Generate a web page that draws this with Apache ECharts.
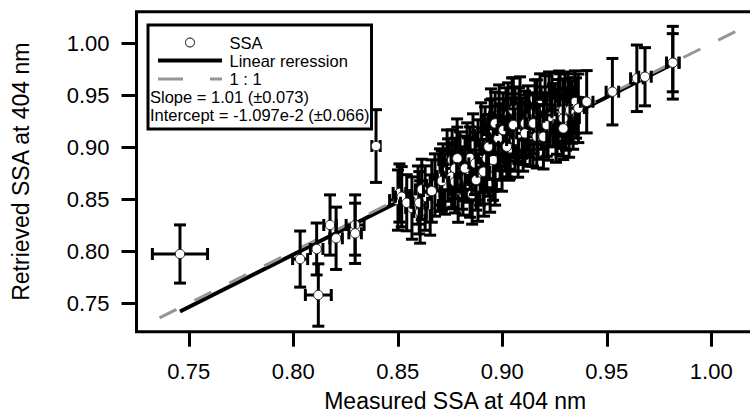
<!DOCTYPE html>
<html><head><meta charset="utf-8">
<script src="https://cdn.jsdelivr.net/npm/echarts@6/dist/echarts.min.js"></script>
<style>html,body{margin:0;padding:0;background:#fff}#c{width:750px;height:414px}</style>
</head><body><div id="c"></div>
<script>
// Measured SSA (x), retrieved SSA (y) and their error bars
const measured = [
  0.8702,0.8736,0.8765,0.8784,0.8812,0.8832,0.8860,0.8875,0.8899,0.8913,
  0.8927,0.8946,0.8961,0.8985,0.8999,0.9018,0.9033,0.9047,0.9066,0.9080,
  0.9100,0.9114,0.9128,0.9147,0.9166,0.9186,0.9200,0.9224,0.9243,0.9257,
  0.9272,0.9286,0.9300,0.9320,0.9339,0.9353,
  0.8501,0.8568,0.8597,0.8631,0.8655,0.8607,0.8678,0.8717,0.8726,0.8741,
  0.8789,0.8798,0.8808,0.8836,0.8846,0.8856,0.8884,0.8884,0.8894,0.8903,
  0.8918,0.8932,0.8942,0.8942,0.8951,0.8956,0.8975,0.8989,0.9004,0.9013,
  0.9028,0.9037,0.9042,0.9061,0.9076,0.9085,0.9095,0.9123,0.9133,0.9157,
  0.9171,0.9181,0.9205,0.9219,0.9238,0.9262,0.9277,0.9305,0.9315,0.9334,
  0.9348,0.8846,0.8760,
  0.8508,0.8519,0.8543,0.8603,0.8615,0.8663,0.8711,0.8758,0.8774,0.8774,
  0.8785,0.8822,0.8870,0.8875,0.8910,0.8926,0.8966,0.8966,0.8957,0.8934,
  0.8990,0.9037,0.8966,0.8981,0.9005,0.9022,0.9053,0.9061,0.9077,0.9053,
  0.9109,0.9109,0.9149,0.9165,0.9197,0.9213,0.9229,0.9253,0.9268,0.9292,
  0.9292,0.9292,0.9324,0.9364,0.9404,
  0.7458,0.8033,0.8112,0.8120,0.8176,0.8205,0.8296,0.8296,0.8396,
  0.9527,0.9644,0.9683,0.9816,0.9816
];
const retrieved = [
  0.8687,0.8879,0.8735,0.8975,0.8639,0.8927,0.9024,0.8783,0.9120,0.8639,
  0.8975,0.9264,0.9024,0.9312,0.8879,0.9264,0.8975,0.9380,0.9168,0.9264,
  0.9072,0.9216,0.9216,0.9120,0.9360,0.9283,0.9216,0.9437,0.9312,0.9168,
  0.9446,0.9216,0.9437,0.9216,0.9283,0.9380,
  0.8494,0.8417,0.8542,0.8513,0.8446,0.8379,0.8639,0.8725,0.8648,0.8783,
  0.8590,0.8860,0.8706,0.8783,0.8629,0.8552,0.8956,0.8590,0.8735,0.8879,
  0.9072,0.8831,0.9149,0.8667,0.9168,0.8802,0.8975,0.9120,0.9216,0.9072,
  0.9312,0.9091,0.9187,0.9283,0.9024,0.9380,0.9187,0.9283,0.9120,0.9341,
  0.9187,0.9409,0.9380,0.9168,0.9418,0.9245,0.9409,0.9264,0.9399,0.9341,
  0.9437,0.8898,0.8879,
  0.8562,0.8526,0.8468,0.8468,0.8597,0.8581,0.8677,0.8719,0.8670,0.8799,
  0.8896,0.8799,0.8847,0.8687,0.8767,0.8896,0.8735,0.8896,0.8879,0.9007,
  0.8992,0.8992,0.9232,0.9088,0.9168,0.9007,0.9360,0.9072,0.9136,0.9216,
  0.9232,0.9136,0.9232,0.9103,0.9103,0.9216,0.9296,0.9312,0.9344,0.9360,
  0.9281,0.9184,0.9360,0.9377,0.9440,
  0.7975,0.7926,0.8023,0.7580,0.8254,0.8126,0.8254,0.8174,0.9014,
  0.9537,0.9666,0.9681,0.9816,0.9816
];
const measuredErr = [
  0.003,0.004,0.003,0.004,0.003,0.004,0.003,0.004,0.003,0.004,
  0.003,0.004,0.003,0.004,0.003,0.004,0.003,0.004,0.003,0.004,
  0.003,0.004,0.003,0.004,0.003,0.004,0.003,0.004,0.003,0.004,
  0.003,0.004,0.003,0.004,0.003,0.004,
  0.004,0.003,0.004,0.003,0.004,0.003,0.004,0.003,0.004,0.003,
  0.004,0.003,0.004,0.003,0.004,0.003,0.004,0.003,0.004,0.003,
  0.004,0.003,0.004,0.003,0.004,0.003,0.004,0.003,0.004,0.003,
  0.004,0.003,0.004,0.003,0.004,0.003,0.004,0.003,0.004,0.003,
  0.004,0.003,0.004,0.003,0.004,0.003,0.004,0.003,0.004,0.003,
  0.004,0.003,0.004,
  0.003,0.003,0.003,0.004,0.003,0.004,0.003,0.004,0.003,0.004,
  0.003,0.004,0.003,0.004,0.003,0.004,0.003,0.004,0.003,0.004,
  0.003,0.004,0.003,0.004,0.003,0.004,0.003,0.004,0.003,0.004,
  0.003,0.004,0.003,0.004,0.003,0.004,0.003,0.004,0.003,0.004,
  0.003,0.004,0.003,0.004,0.003,
  0.0132,0.0036,0.003,0.0062,0.003,0.003,0.0043,0.003,0.002,
  0.003,0.003,0.003,0.003,0.003
];
const retrievedErr = [
  0.030,0.029,0.031,0.030,0.029,0.031,0.030,0.029,0.031,0.030,
  0.029,0.030,0.031,0.029,0.030,0.031,0.029,0.029,0.030,0.031,
  0.030,0.029,0.031,0.030,0.029,0.030,0.031,0.029,0.030,0.031,
  0.029,0.030,0.029,0.031,0.030,0.029,
  0.029,0.030,0.028,0.031,0.029,0.030,0.030,0.031,0.029,0.030,
  0.031,0.029,0.030,0.031,0.030,0.029,0.031,0.030,0.029,0.031,
  0.032,0.030,0.031,0.029,0.030,0.031,0.029,0.030,0.031,0.030,
  0.031,0.030,0.029,0.030,0.031,0.030,0.029,0.031,0.030,0.031,
  0.030,0.030,0.031,0.029,0.030,0.031,0.030,0.029,0.031,0.030,
  0.030,0.030,0.029,
  0.028,0.029,0.027,0.030,0.029,0.030,0.029,0.031,0.030,0.029,
  0.030,0.031,0.030,0.029,0.031,0.030,0.029,0.030,0.030,0.031,
  0.030,0.029,0.030,0.031,0.030,0.029,0.031,0.030,0.029,0.030,
  0.031,0.030,0.029,0.030,0.031,0.030,0.029,0.030,0.031,0.030,
  0.029,0.030,0.031,0.033,0.030,
  0.028,0.027,0.025,0.030,0.029,0.030,0.029,0.029,0.035,
  0.032,0.032,0.028,0.035,0.028
];
// Fit line end points and the 1:1 line
const regressionX = [0.7458, 0.9830];
const regressionY = [0.7422, 0.9818];
const oneToOneX = [0.736, 1.03];
const oneToOneY = [0.736, 1.03];
// Tick labels
const xTicks = [0.75, 0.80, 0.85, 0.90, 0.95, 1.00];
const yTicks = [0.75, 0.80, 0.85, 0.90, 0.95, 1.00];
const fitText = ['Slope = 1.01 (\u00b10.073)', 'Intercept = -1.097e-2 (\u00b10.066)'];

const FONT = '"Liberation Sans", Arial, sans-serif';
const chart = echarts.init(document.getElementById('c'), null, {renderer: 'svg'});

const points = measured.map((v, i) => [v, retrieved[i], measuredErr[i], retrievedErr[i]]);

function renderErr(params, api) {
  const x = api.value(0), y = api.value(1), xe = api.value(2), ye = api.value(3);
  const c = api.coord([x, y]);
  const t = api.coord([x, y + ye]);
  const b = api.coord([x, y - ye]);
  const l = api.coord([x - xe, y]);
  const r = api.coord([x + xe, y]);
  const cap = 6, lw = 3;
  const st = {stroke: '#000', lineWidth: lw, fill: null};
  return {
    type: 'group',
    children: [
      {type: 'line', shape: {x1: c[0], y1: t[1], x2: c[0], y2: b[1]}, style: st},
      {type: 'line', shape: {x1: c[0] - cap, y1: t[1], x2: c[0] + cap, y2: t[1]}, style: st},
      {type: 'line', shape: {x1: c[0] - cap, y1: b[1], x2: c[0] + cap, y2: b[1]}, style: st},
      {type: 'line', shape: {x1: l[0], y1: c[1], x2: r[0], y2: c[1]}, style: st},
      {type: 'line', shape: {x1: l[0], y1: c[1] - cap, x2: l[0], y2: c[1] + cap}, style: st},
      {type: 'line', shape: {x1: r[0], y1: c[1] - cap, x2: r[0], y2: c[1] + cap}, style: st},
      {type: 'circle', shape: {cx: c[0], cy: c[1], r: 4.7}, style: {fill: '#fff', stroke: '#222', lineWidth: 1}}
    ]
  };
}

const axisCommon = {
  type: 'value',
  splitLine: {show: false},
  axisLine: {show: false},
  axisTick: {show: true, inside: false, length: 15, lineStyle: {color: '#000', width: 3}},
  axisLabel: {color: '#000', fontFamily: FONT, fontSize: 22, formatter: v => v.toFixed(2)},
  nameLocation: 'middle',
  nameTextStyle: {color: '#000', fontFamily: FONT, fontSize: 23}
};

const lx = 148, ly = 25;
const LF = '16.5px ' + FONT;
chart.setOption({
  animation: false,
  backgroundColor: '#fff',
  grid: {left: 136.5, top: 11.7, bottom: 82.3, right: -23.95, containLabel: false, outerBoundsMode: 'none',
         show: true, borderColor: '#000', borderWidth: 3, backgroundColor: 'transparent'},
  xAxis: Object.assign({}, axisCommon, {
    min: 0.725, max: 1.03,
    name: 'Measured SSA at 404 nm', nameGap: 57.5,
    axisTick: Object.assign({}, axisCommon.axisTick, {customValues: xTicks}),
    axisLabel: Object.assign({}, axisCommon.axisLabel, {customValues: xTicks, margin: 29})
  }),
  yAxis: Object.assign({}, axisCommon, {
    min: 0.7227, max: 1.0307,
    name: 'Retrieved SSA at 404 nm', nameGap: 104,
    axisTick: Object.assign({}, axisCommon.axisTick, {customValues: yTicks}),
    axisLabel: Object.assign({}, axisCommon.axisLabel, {customValues: yTicks, margin: 27})
  }),
  series: [
    {
      name: 'Linear reression', type: 'line', symbol: 'none', silent: true,
      data: regressionX.map((v, i) => [v, regressionY[i]]),
      lineStyle: {color: '#000', width: 4}, z: 2
    },
    {
      name: '1 : 1', type: 'line', symbol: 'none', silent: true,
      data: oneToOneX.map((v, i) => [v, oneToOneY[i]]),
      lineStyle: {color: '#959595', width: 3, type: [19, 20]}, z: 3
    },
    {
      name: 'SSA', type: 'custom', renderItem: renderErr, data: points,
      encode: {x: 0, y: 1}, z: 4
    }
  ],
  graphic: [
    {type: 'rect', shape: {x: lx, y: ly, width: 223.5, height: 104}, style: {fill: '#fff', stroke: '#000', lineWidth: 3}, z: 10},
    {type: 'circle', shape: {cx: 190, cy: 42.5, r: 4.5}, style: {fill: '#fff', stroke: '#000', lineWidth: 1}, z: 11},
    {type: 'text', x: 229.5, y: 42.5, style: {text: 'SSA', font: LF, fill: '#000', verticalAlign: 'middle', textVerticalAlign: 'middle'}, z: 11},
    {type: 'line', shape: {x1: 158, y1: 60.5, x2: 222, y2: 60.5}, style: {stroke: '#000', lineWidth: 4}, z: 11},
    {type: 'text', x: 229.5, y: 60.5, style: {text: 'Linear reression', font: LF, fill: '#000', verticalAlign: 'middle', textVerticalAlign: 'middle'}, z: 11},
    {type: 'line', shape: {x1: 158, y1: 79, x2: 222, y2: 79}, style: {stroke: '#959595', lineWidth: 3, lineDash: [25, 27]}, z: 11},
    {type: 'text', x: 229.5, y: 78.5, style: {text: '1 : 1', font: LF, fill: '#000', verticalAlign: 'middle', textVerticalAlign: 'middle'}, z: 11},
    {type: 'text', x: 150, y: 96.5, style: {text: fitText[0], font: LF, fill: '#000', verticalAlign: 'middle', textVerticalAlign: 'middle'}, z: 11},
    {type: 'text', x: 150, y: 114.5, style: {text: fitText[1], font: LF, fill: '#000', verticalAlign: 'middle', textVerticalAlign: 'middle'}, z: 11}
  ]
});
</script>
</body></html>
